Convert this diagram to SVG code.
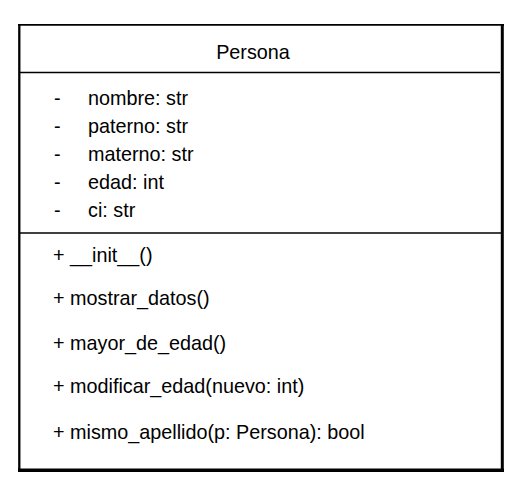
<svg xmlns="http://www.w3.org/2000/svg" width="521" height="495" viewBox="0 0 521 495">
<style>
text{font-family:"Liberation Sans",Arial,sans-serif;font-size:19.8px;fill:#000}
.ln{stroke:#000;fill:none}
</style>
<rect width="521" height="495" fill="#fff"/>
<g id="persona">
<line class="ln" x1="18" y1="24.8" x2="504" y2="24.8" stroke-width="1.7"/>
<line class="ln" x1="19.3" y1="24" x2="19.3" y2="472" stroke-width="2.3"/>
<line class="ln" x1="502.3" y1="24" x2="502.3" y2="472" stroke-width="3"/>
<line class="ln" x1="18" y1="470.2" x2="504" y2="470.2" stroke-width="3.5"/>
<line class="ln" x1="19" y1="72.5" x2="500" y2="72.5" stroke-width="1.3"/>
<line class="ln" x1="19" y1="233" x2="502" y2="233" stroke-width="1.3"/>
<text x="253" y="59" text-anchor="middle">Persona</text>
<text x="54" y="105">-</text><text x="88" y="105">nombre: str</text>
<text x="54" y="133">-</text><text x="88" y="133">paterno: str</text>
<text x="54" y="161">-</text><text x="88" y="161">materno: str</text>
<text x="54" y="189">-</text><text x="88" y="189">edad: int</text>
<text x="54" y="217">-</text><text x="88" y="217">ci: str</text>
<text x="53" y="262">+ __init__()</text>
<text x="53" y="305">+ mostrar_datos()</text>
<text x="53" y="350">+ mayor_de_edad()</text>
<text x="53" y="393">+ modificar_edad(nuevo: int)</text>
<text x="53" y="439">+ mismo_apellido(p: Persona): bool</text>
</g>
<g id="connectors"/>
</svg>
